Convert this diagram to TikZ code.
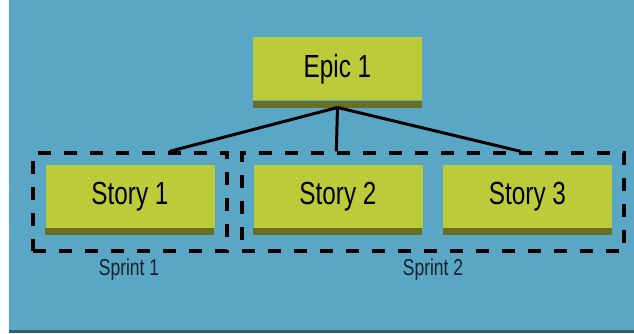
\documentclass[tikz,border=0pt]{standalone}
\usepackage{fontspec}
\setmainfont{Liberation Sans}[FakeStretch=0.76]
\usetikzlibrary{calc}
\definecolor{bgblue}{HTML}{5AA6C5}
\definecolor{bgedge}{HTML}{2F5F74}
\definecolor{cardfill}{HTML}{BCCB3A}
\definecolor{cardshade}{HTML}{6A6F24}
\definecolor{labelink}{HTML}{13202C}
\tikzset{
  card/.style={rectangle, fill=cardfill, minimum width=169pt, minimum height=63pt,
    inner sep=0pt, font=\fontsize{32}{32}\selectfont, text=black},
  sprintbox/.style={rectangle, draw=black, line width=3.2pt,
    dash pattern=on 13pt off 13pt, inner sep=0pt},
  sprintlabel/.style={font=\fontsize{23}{23}\selectfont, text=labelink},
  link/.style={draw=black, line width=3pt},
}
\newcommand{\cardshadow}[1]{\fill[cardshade] (#1.south west) rectangle ++(169,7);}
\begin{document}
\begin{tikzpicture}[x=1pt,y=-1pt]
  \useasboundingbox (0,0) rectangle (634,333);
  % backdrop
  \fill[bgblue] (9.3,0) rectangle (634,330);
  \fill[bgedge] (9.3,330) rectangle (634,333);

  % sprint frames
  \node[sprintbox, minimum width=194pt, minimum height=98pt] (sp1) at (130,202) {};
  \node[sprintbox, minimum width=382pt, minimum height=98pt] (sp2) at (433,202) {};
  \node[sprintlabel] (lab1) at (129,270) {Sprint 1};
  \node[sprintlabel] (lab2) at (433,270) {Sprint 2};

  % cards
  \node[card] (epic) at (337.5,68.8) {Epic 1};
  \cardshadow{epic}
  \node[card] (s1) at (130,196.5) {Story 1};
  \cardshadow{s1}
  \node[card] (s2) at (338,196.5) {Story 2};
  \cardshadow{s2}
  \node[card] (s3) at (527.5,196.5) {Story 3};
  \cardshadow{s3}

  % hierarchy links
  \coordinate (root) at ($(epic.south)+(0,7)$);
  \coordinate (t1) at ($(sp1.north west)!0.70!(sp1.north east)$);
  \coordinate (t2) at ($(sp2.north west)!0.249!(sp2.north east)$);
  \coordinate (t3) at ($(sp2.north west)!0.728!(sp2.north east)$);
  \draw[link] (root) -- (t1);
  \draw[link] (root) -- (t2);
  \draw[link] (root) -- (t3);
\end{tikzpicture}
\end{document}
